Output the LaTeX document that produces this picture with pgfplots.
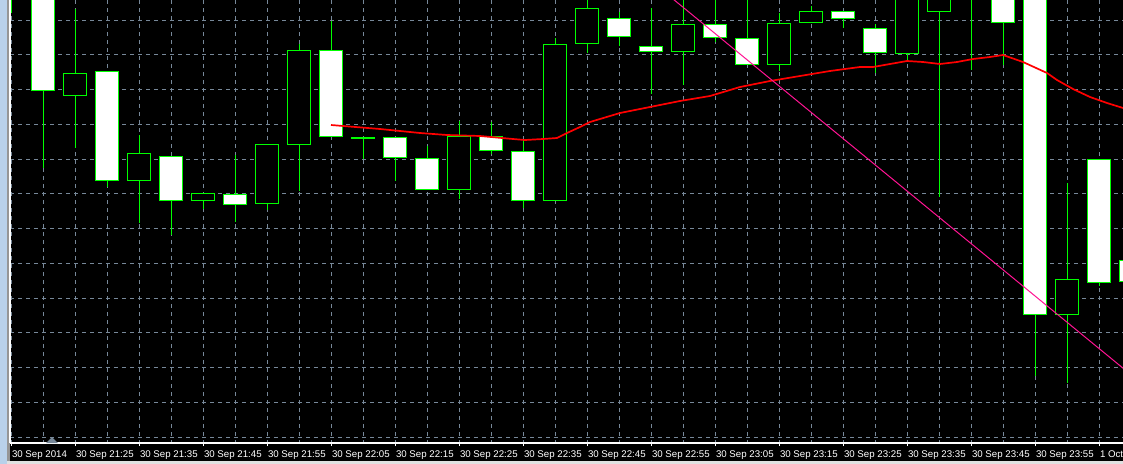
\documentclass[border=0pt]{standalone}
\usepackage{fontspec}
\setmainfont{Liberation Sans}
\usepackage{pgfplots}
\pgfplotsset{compat=1.18}
\usepackage{pgfplotstable}

\definecolor{mtgreen}{RGB}{0,255,0}
\definecolor{mtgrid}{RGB}{119,136,153}
\definecolor{mtpink}{RGB}{255,20,147}
\definecolor{winblue}{RGB}{185,209,234}
\definecolor{winedge}{RGB}{150,150,150}
\definecolor{winbar}{RGB}{225,225,225}

% candles, in screen pixels measured down from the top of the chart
% top/bot = body edges, hi/lo = wick ends
\pgfplotstableread{
x     top   bot   hi    lo
43    -40   91    -40   168
107   71    181   71    187
171   156   201   156   235
235   194   205   155   222
331   50    137   21    137
395   137   158   137   181
427   158   190   146   190
491   136   151   122   154
523   151   201   140   208
619   18    37    12    46
651   46    52    8     94
715   24    38    -10   42
747   38    65    -10   65
843   11    19    11    28
875   28    53    24    73
1003  -40   23    -40   65
1035  -40   315   -40   376
1099  159   283   159   286
1131  260   282   260   282
}\bearish

\pgfplotstableread{
x     top   bot   hi    lo
11    -60   -20   -60   13
75    73    96    9     148
139   153   181   135   223
203   193   201   193   209
267   144   204   144   210
299   50    145   44    191
363   137   139   137   159
459   136   190   121   199
555   44    201   38    201
587   8     44    -10   53
683   24    52    -10   85
779   23    65    13    71
811   11    23    6     23
907   -40   54    -40   60
939   -40   12    -40   197
971   -60   -20   -60   70
1067  279   315   183   383
}\bullish

% moving average (red)
\pgfplotstableread{
x     y
331   125
380   129
420   133
447   135
480   136
513   139
525   140
543   139
557   138
567   133
580   127
590   122
620   113
650   107
680   101
710   96
740   87
770   81
800   76
830   71
860   67
873   67
907   61
923   62
940   64
957   62
973   59
990   57
1003  55
1023  62
1047  73
1057  80
1073  89
1090  97
1107  103
1123  108
}\ma

\pgfplotsset{
  candle/.style 2 args={draw=none, mark=none, forget plot,
    error bars/.cd, y dir=plus, y explicit, error mark=none,
    error bar style={draw=#1, line width=#2, solid}},
}

\begin{document}
\begin{tikzpicture}
  % window frame and chart background (screen pixels)
  \begin{scope}[x=0.5pt, y=-0.5pt]
    \fill[winblue] (0,0) rectangle (1123,464);
    \fill[black] (10,0) rectangle (1123,461);
    \fill[winedge] (7,0) rectangle (10,461);
    \fill[winbar] (7,461) rectangle (1123,464);
  \end{scope}

  \begin{axis}[
    at={(5pt,-221.5pt)}, anchor=south west,
    scale only axis,
    width=556.5pt, height=221.5pt,
    xmin=10, xmax=1123,
    ymin=0, ymax=443,
    y dir=reverse,
    axis x line*=bottom,
    axis y line*=left,
    axis line style={white, line width=0.6pt},
    xtick={11,75,...,1099},
    minor xtick={43,107,...,1131},
    xticklabels={30 Sep 2014, 30 Sep 21:25, 30 Sep 21:35, 30 Sep 21:45,
      30 Sep 21:55, 30 Sep 22:05, 30 Sep 22:15, 30 Sep 22:25, 30 Sep 22:35,
      30 Sep 22:45, 30 Sep 22:55, 30 Sep 23:05, 30 Sep 23:15, 30 Sep 23:25,
      30 Sep 23:35, 30 Sep 23:45, 30 Sep 23:55, 1 Oct},
    xticklabel style={font=\fontsize{4.85pt}{5pt}\selectfont, text=white,
      anchor=north west, inner sep=0pt, yshift=-2.2pt, xshift=0.3pt},
    ytick={20,54.75,89.5,124.25,159,193.75,228.5,263.25,298,332.75,367.5,402.25,437},
    yticklabels={},
    major tick length=1.5pt,
    minor tick length=0pt,
    tick align=outside,
    tick style={white, line width=0.5pt},
    ytick style={draw=none},
    grid=both,
    major grid style={mtgrid, line width=0.5pt, dash pattern=on 2pt off 2pt},
    minor grid style={mtgrid, line width=0.5pt, dash pattern=on 2pt off 2pt},
  ]
    % wicks
    \addplot[candle={mtgreen}{0.5pt}] table[x=x, y=hi,
      y error plus expr=\thisrow{lo}-\thisrow{hi}] \bearish;
    \addplot[candle={mtgreen}{0.5pt}] table[x=x, y=hi,
      y error plus expr=\thisrow{lo}-\thisrow{hi}] \bullish;

    % bodies: green outline, then fill
    \addplot[candle={mtgreen}{12pt}] table[x=x, y=top,
      y error plus expr=\thisrow{bot}-\thisrow{top}] \bearish;
    \addplot[candle={white}{11pt}] table[x=x, y expr=\thisrow{top}+1,
      y error plus expr=\thisrow{bot}-\thisrow{top}-2] \bearish;
    \addplot[candle={mtgreen}{12pt}] table[x=x, y=top,
      y error plus expr=\thisrow{bot}-\thisrow{top}] \bullish;
    \addplot[candle={black}{11pt}] table[x=x, y expr=\thisrow{top}+1,
      y error plus expr=\thisrow{bot}-\thisrow{top}-2] \bullish;

    % moving average
    \addplot[red, line width=0.85pt, mark=none] table[x=x, y=y] \ma;

    % trend line
    \addplot[mtpink, line width=0.5pt, mark=none] coordinates {(662,-10) (1135,378)};
  \end{axis}

  % chart shift marker
  \begin{scope}[x=0.5pt, y=-0.5pt]
    \fill[mtgrid] (46,443) -- (58,443) -- (52,437) -- cycle;
  \end{scope}

  \pgfresetboundingbox
  \path[use as bounding box] (0,0) rectangle (561.5pt,-232pt);
\end{tikzpicture}
\end{document}
